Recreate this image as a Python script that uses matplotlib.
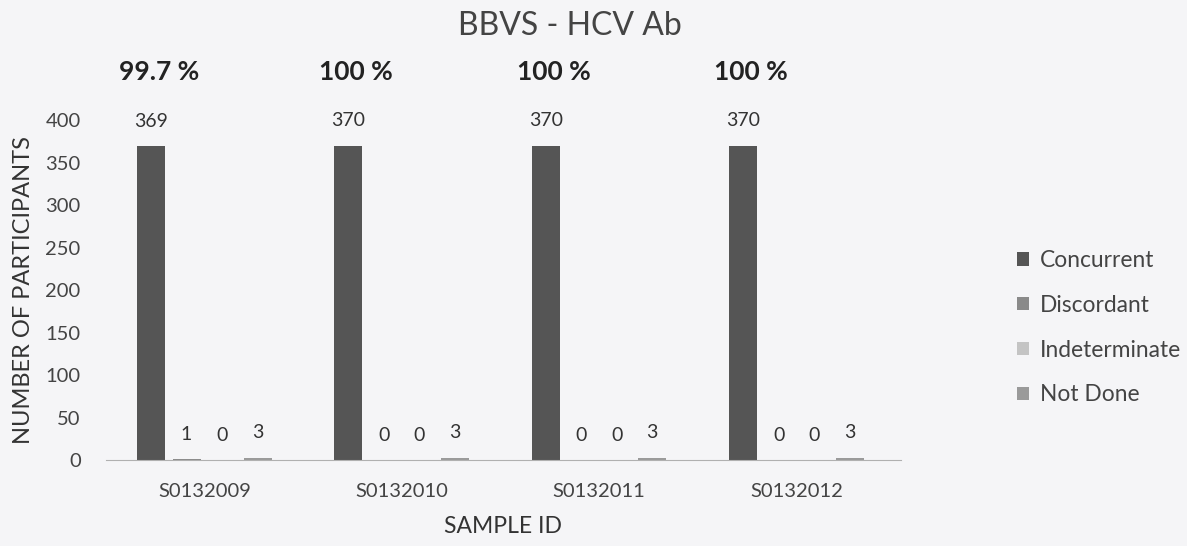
import numpy as np
import matplotlib
matplotlib.use("Agg")
import matplotlib.pyplot as plt

plt.rcParams['font.family'] = ['Lato', 'DejaVu Sans']

# Data
samples = ["S0132009", "S0132010", "S0132011", "S0132012"]
concurrent = [369, 370, 370, 370]
discordant = [1, 0, 0, 0]
indeterminate = [0, 0, 0, 0]
not_done = [3, 3, 3, 3]
percent_labels = ["99.7 %", "100 %", "100 %", "100 %"]

series = [
    ("Concurrent", concurrent, "#555555"),
    ("Discordant", discordant, "#8a8a8a"),
    ("Indeterminate", indeterminate, "#c4c4c4"),
    ("Not Done", not_done, "#9a9a9a"),
]

bg = "#f5f5f7"
fig = plt.figure(figsize=(11.87, 5.46), dpi=100, facecolor=bg)
ax = fig.add_axes([0.089, 0.157, 0.67, 0.623], facecolor=bg)

x = np.arange(len(samples))
step = 0.18
width = 0.142

for k, (name, vals, col) in enumerate(series):
    pos = x + (k - 1.5) * step
    bars = ax.bar(pos, vals, width, color=col, label=name)
    for b, v in zip(bars, vals):
        ax.annotate(str(v), (b.get_x() + b.get_width() / 2, v),
                    xytext=(0, 12), textcoords="offset points",
                    ha="center", va="bottom", fontsize=14, color="#333333")

# percentage concordance above each concurrent bar
for i, lab in enumerate(percent_labels):
    ax.text(x[i] + (-1.5) * step + 0.04, 456, lab, ha="center", va="center",
            fontsize=19, fontweight="bold", color="#222222", clip_on=False)

ax.set_xlim(-0.5, 3.53)
ax.set_ylim(0, 400)
ax.set_yticks(range(0, 401, 50))
ax.set_xticks(x)
ax.set_xticklabels(samples)
ax.tick_params(axis="both", length=0, labelsize=14.5, labelcolor="#444444")
ax.tick_params(axis="x", pad=16)
ax.tick_params(axis="y", pad=18)

for s in ["top", "right", "left"]:
    ax.spines[s].set_visible(False)
ax.spines["bottom"].set_color("#b0b0b0")

ax.set_ylabel("NUMBER OF PARTICIPANTS", fontsize=17, color="#333333",
              labelpad=8)
ax.set_xlabel("SAMPLE ID", fontsize=16.5, color="#333333", labelpad=12)

fig.text(0.48, 0.952, "BBVS - HCV Ab", ha="center", va="center",
         fontsize=23, color="#444444")

leg = ax.legend(loc="center left", bbox_to_anchor=(1.12, 0.39), frameon=False,
                fontsize=16.4, handlelength=0.55, handleheight=0.55,
                handletextpad=0.45, labelspacing=1.05)
for t in leg.get_texts():
    t.set_color("#444444")

fig.savefig("out.png", dpi=100, facecolor=bg)
